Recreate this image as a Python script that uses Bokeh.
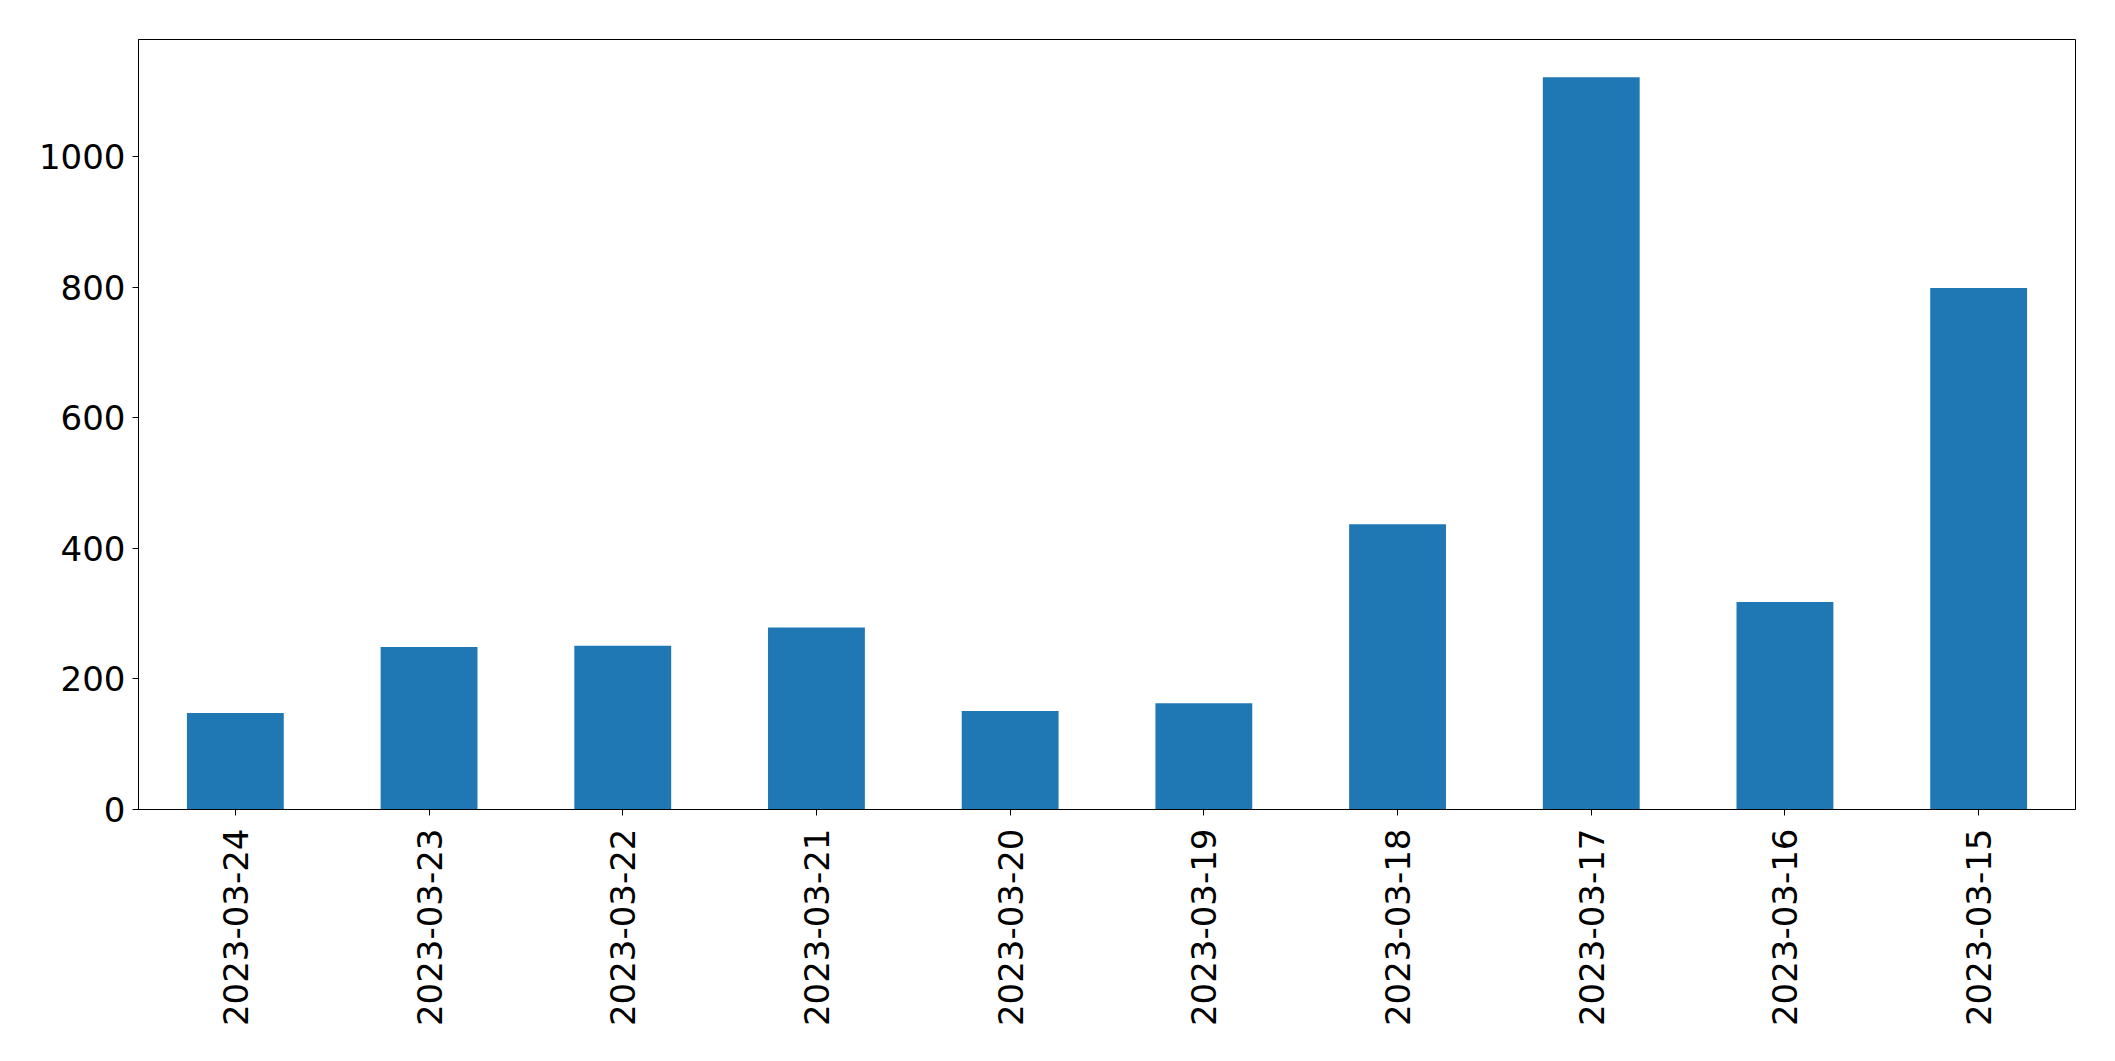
import math

from bokeh.embed import file_html
from bokeh.models import FactorRange, FixedTicker, Range1d
from bokeh.plotting import figure
from bokeh.resources import INLINE

dates = [
    "2023-03-24",
    "2023-03-23",
    "2023-03-22",
    "2023-03-21",
    "2023-03-20",
    "2023-03-19",
    "2023-03-18",
    "2023-03-17",
    "2023-03-16",
    "2023-03-15",
]
counts = [148, 249, 251, 279, 151, 163, 437, 1122, 318, 799]
y_ticks = [0, 200, 400, 600, 800, 1000]

FONT = "DejaVu Sans"
FONT_SIZE = "34px"

p = figure(
    x_range=FactorRange(*dates),
    y_range=Range1d(0, 1180),
    width=2099,
    height=1045,
    output_backend="svg",
    toolbar_location=None,
    min_border_left=138,
    min_border_right=24,
    min_border_top=39,
    min_border_bottom=236,
)

p.vbar(x=dates, top=counts, width=0.5, fill_color="#1f77b4", line_color=None)

p.xgrid.visible = False
p.ygrid.visible = False
p.outline_line_color = "black"
p.outline_line_width = 1

for ax in (p.xaxis, p.yaxis):
    ax.axis_line_color = "black"
    ax.major_tick_line_color = "black"
    ax.major_tick_out = 6
    ax.major_tick_in = 0
    ax.minor_tick_line_color = None
    ax.major_label_text_font = FONT
    ax.major_label_text_font_size = FONT_SIZE
    ax.major_label_text_color = "black"

p.yaxis.major_label_standoff = 7
p.xaxis.major_label_standoff = 13
p.yaxis.ticker = FixedTicker(ticks=y_ticks)
p.xaxis.major_label_orientation = math.pi / 2

open("out.html", "w").write(file_html(p, INLINE))
